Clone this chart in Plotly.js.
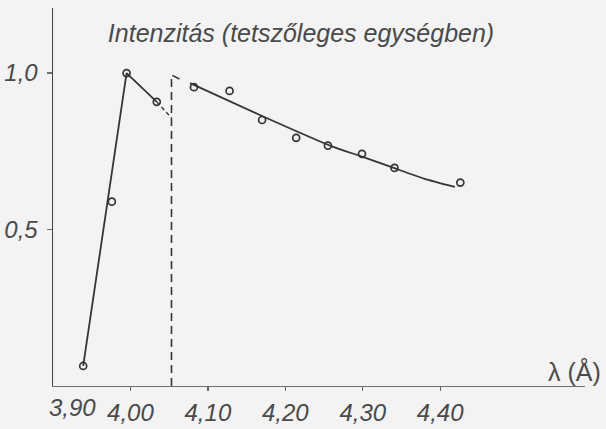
<!DOCTYPE html>
<html>
<head>
<meta charset="utf-8">
<script src="https://cdn.plot.ly/plotly-3.0.1.min.js"></script>
<style>html,body{margin:0;padding:0;background:#f3f3f3;}#chart{width:606px;height:429px;}</style>
</head>
<body>
<div id="chart"></div>
<script>
// Measured points (wavelength in Å, intensity in arbitrary units)
var pointsX = [3.939, 3.976, 3.995, 4.034, 4.082, 4.128, 4.170, 4.214, 4.255, 4.299, 4.341, 4.426];
var pointsY = [0.064, 0.589, 1.000, 0.908, 0.955, 0.943, 0.850, 0.793, 0.768, 0.742, 0.697, 0.650];

// Hand-drawn curve, left branch (solid) and its dashed continuation
var leftX = [3.939, 3.995, 4.034];
var leftY = [0.064, 1.000, 0.908];
var leftDashX = [4.034, 4.053];
var leftDashY = [0.908, 0.857];

// Absorption edge (dashed vertical)
var edgeX = [4.053, 4.053, 4.064];
var edgeY = [0.000, 0.994, 0.980];

// Right branch fitted curve
var rightX = [4.077, 4.170, 4.262, 4.299, 4.341, 4.380, 4.419];
var rightY = [0.968, 0.863, 0.764, 0.733, 0.696, 0.662, 0.636];

// Axis ticks
var xTickVals = [4.00, 4.10, 4.20, 4.30, 4.40];
var xTickText = ['4,00', '4,10', '4,20', '4,30', '4,40'];
var yTickVals = [0.5, 1.0];
var yTickText = ['0,5', '1,0'];

var ink = '#353535';
var txt = '#4a4a4a';
var fnt = 'Liberation Sans, Arial, sans-serif';

var traces = [
  {x: leftX, y: leftY, mode: 'lines', line: {color: ink, width: 1.8}, hoverinfo: 'skip'},
  {x: leftDashX, y: leftDashY, mode: 'lines', line: {color: ink, width: 1.4, dash: '4px,3px'}, hoverinfo: 'skip'},
  {x: edgeX, y: edgeY, mode: 'lines', line: {color: ink, width: 1.6, dash: '8px,5px'}, hoverinfo: 'skip'},
  {x: rightX, y: rightY, mode: 'lines', line: {color: ink, width: 1.8, shape: 'spline', smoothing: 0.5}, hoverinfo: 'skip'},
  {x: pointsX, y: pointsY, mode: 'markers',
   marker: {symbol: 'circle-open', size: 7, color: ink, line: {width: 1.7, color: ink}}}
];

var layout = {
  width: 606, height: 429,
  margin: {l: 53, r: 21, t: 8, b: 43},
  paper_bgcolor: '#f3f3f3',
  plot_bgcolor: '#f3f3f3',
  showlegend: false,
  font: {family: fnt, color: txt, size: 24},
  title: {
    text: 'Intenzitás (tetszőleges egységben)',
    font: {family: fnt, size: 25, color: txt, style: 'italic'},
    xref: 'container', yref: 'container',
    x: 0.178, xanchor: 'left', y: 0.923, yanchor: 'middle'
  },
  xaxis: {
    range: [3.90, 4.587],
    showgrid: false, zeroline: false,
    showline: true, linecolor: '#707070', linewidth: 1.3,
    ticks: 'outside', ticklen: 4, tickwidth: 1.3, tickcolor: '#606060',
    tickvals: xTickVals, ticktext: xTickText,
    tickfont: {family: fnt, size: 24, color: txt, style: 'italic'},
    ticklabelstandoff: 1
  },
  yaxis: {
    range: [0, 1.208],
    showgrid: false, zeroline: false,
    showline: true, linecolor: '#404040', linewidth: 1.5,
    ticks: 'outside', ticklen: 5, tickwidth: 1.2, tickcolor: '#707070',
    tickvals: yTickVals, ticktext: yTickText,
    tickfont: {family: fnt, size: 24, color: txt, style: 'italic'},
    ticklabelstandoff: 4
  },
  annotations: [
    {text: '3,90', x: 3.90, y: 0, xref: 'x', yref: 'y', xanchor: 'left', yanchor: 'top',
     xshift: -6, yshift: -6, showarrow: false,
     font: {family: fnt, size: 24, color: txt, style: 'italic'}},
    {text: 'λ (Å)', x: 1, y: 0, xref: 'paper', yref: 'y', xanchor: 'right', yanchor: 'bottom',
     xshift: 18, yshift: -2, showarrow: false,
     font: {family: fnt, size: 25, color: txt}}
  ]
};

Plotly.newPlot('chart', traces, layout, {displayModeBar: false, staticPlot: true});
</script>
</body>
</html>
